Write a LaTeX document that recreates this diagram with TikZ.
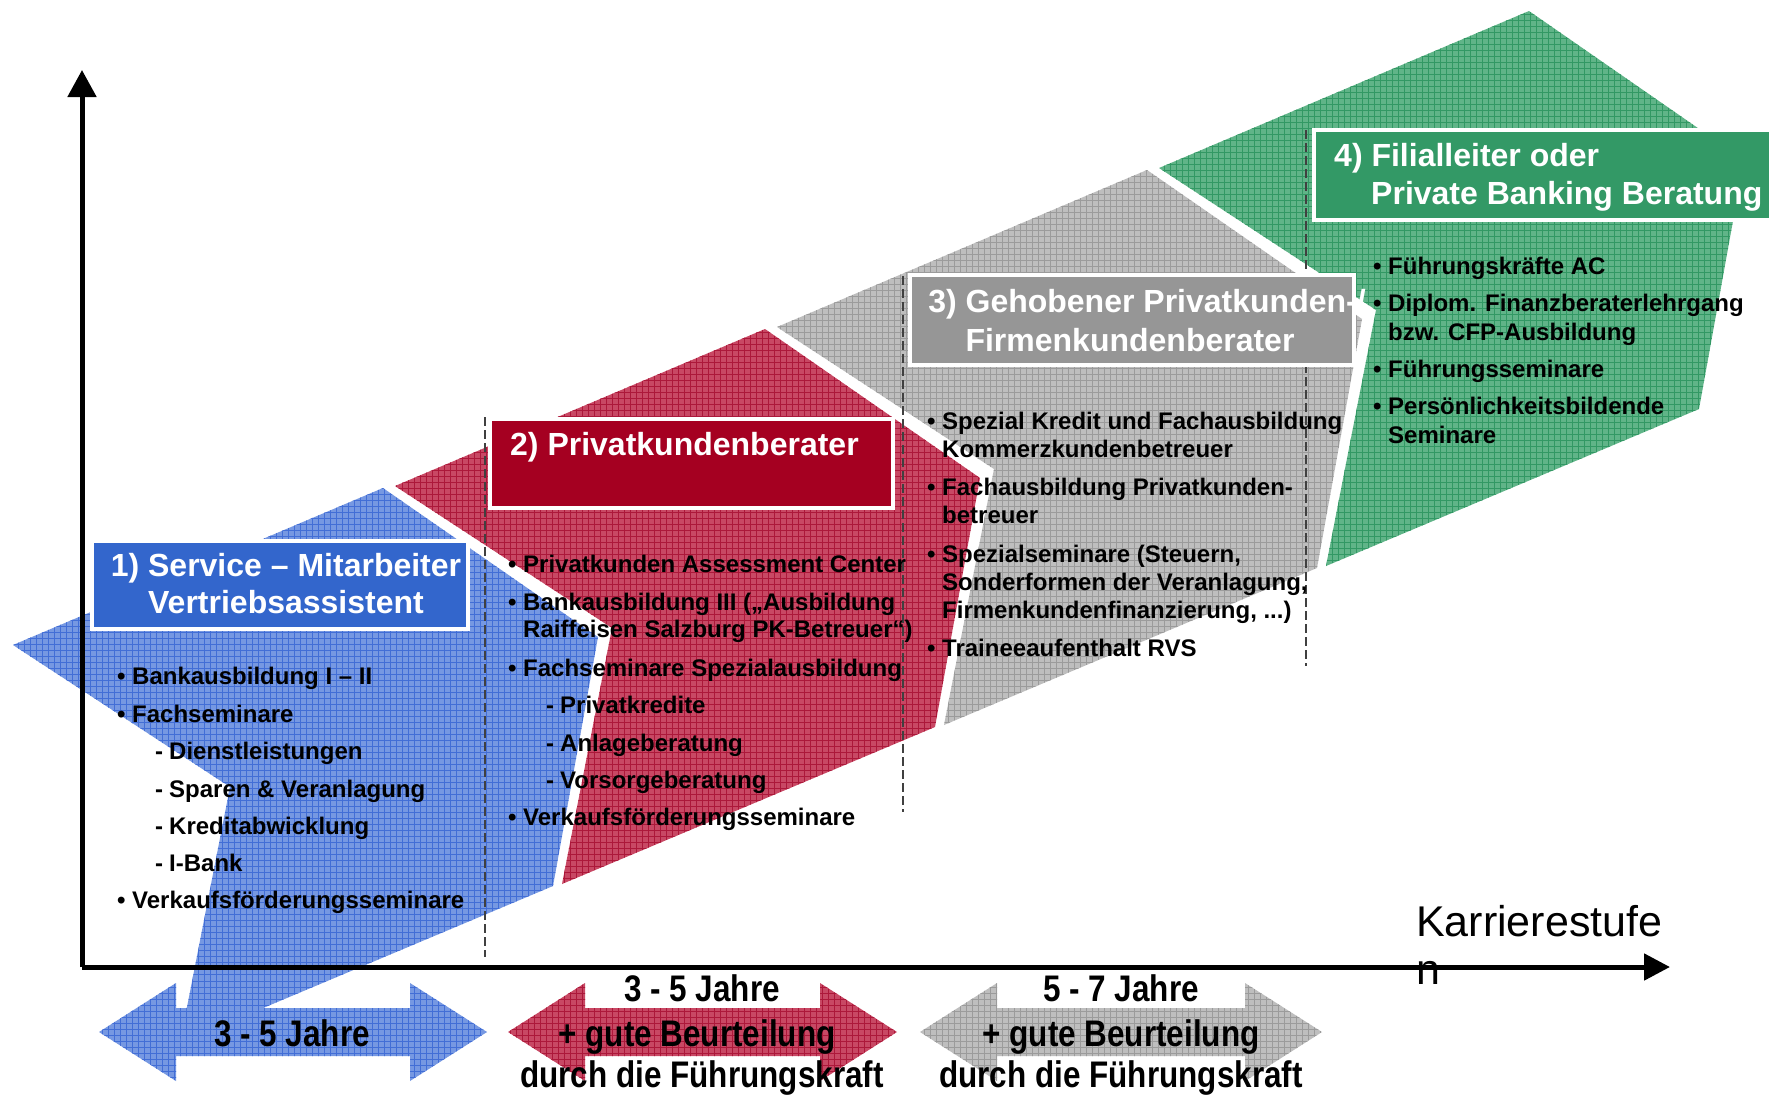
\documentclass[tikz,border=0pt]{standalone}
\usepackage{fontspec}
\setmainfont{Liberation Sans}
\newfontfamily\narrowfont[FakeStretch=0.85]{Liberation Sans}
\usetikzlibrary{arrows.meta, patterns.meta}

\definecolor{blueBase}{RGB}{118,152,226}
\definecolor{blueLine}{RGB}{66,110,214}
\definecolor{redBase}{RGB}{200,72,100}
\definecolor{redLine}{RGB}{172,24,58}
\definecolor{grayBase}{RGB}{190,190,190}
\definecolor{grayLine}{RGB}{155,155,155}
\definecolor{greenBase}{RGB}{96,180,136}
\definecolor{greenLine}{RGB}{50,152,100}
\definecolor{boxBlue}{RGB}{51,102,204}
\definecolor{boxRed}{RGB}{165,0,33}
\definecolor{boxGray}{RGB}{150,150,150}
\definecolor{boxGreen}{RGB}{51,153,102}

\newcommand{\bul}[1]{\makebox[15pt][l]{•}#1}
\newcommand{\contline}[1]{\hspace*{15pt}#1}
\newcommand{\subitm}[1]{\hspace*{38pt}\makebox[14pt][l]{-}#1}

\begin{document}
\begin{tikzpicture}[x=1pt, y=-1pt,
    hatchfill/.style 2 args={fill=#1,
      postaction={pattern={Lines[distance=6pt, angle=0, line width=1pt]}, pattern color=#2},
      postaction={pattern={Lines[distance=6pt, angle=90, line width=1pt]}, pattern color=#2}},
    tbox/.style={draw=white, line width=4pt, anchor=north west, inner sep=0pt},
    ttl/.style={text=white, inner sep=0pt, font=\bfseries\fontsize{32}{37}\selectfont},
    itm/.style={anchor=base west, inner sep=0pt, font=\bfseries\fontsize{24}{28}\selectfont},
    yrs/.style={anchor=base, inner sep=0pt, font=\narrowfont\bfseries\fontsize{37}{45}\selectfont},
    guide/.style={black!75, line width=1.2pt, dash pattern=on 9pt off 4pt},
    axisline/.style={line width=5pt, -{Triangle[length=27pt, width=28pt]}}
]
\useasboundingbox (0,0) rectangle (1769,1095);
\fill[white] (0,0) rectangle (1769,1095);

% duration arrows
\foreach \a/\b/\col in {99/487/blue, 508/897/red, 920/1322/gray}
  \fill[hatchfill={\col Base}{\col Line}] (\a,1032) -- (\a+77,983) -- (\a+77,1008)
    -- (\b-77,1008) -- (\b-77,983) -- (\b,1032) -- (\b-77,1081) -- (\b-77,1056)
    -- (\a+77,1056) -- (\a+77,1081) -- cycle;

% career chevrons
\foreach \k/\col in {3/green, 2/gray, 1/red, 0/blue}
  \fill[hatchfill={\col Base}{\col Line}, shift={(\k*382,-\k*159)}]
    (13,645) -- (383,488) -- (598,637) -- (553,886) -- (180,1043) -- (230,787) -- cycle;

% stage separators
\foreach \x/\ya/\yb in {485/417/957, 903/276/812, 1306/130/666}
  \draw[guide] (\x,\ya) -- (\x,\yb);

% title boxes
\node[tbox, fill=boxBlue, minimum width=376pt, minimum height=88pt] (box1) at (90,539) {};
\node[tbox, fill=boxRed, minimum width=403pt, minimum height=89pt] (box2) at (488,417) {};
\node[tbox, fill=boxGray, minimum width=444pt, minimum height=90pt] (box3) at (908,273) {};
\node[tbox, fill=boxGreen, minimum width=463pt, minimum height=90pt] (box4) at (1312,128) {};

\node[ttl, anchor=base] (t1a) at (286,576) {1) Service – Mitarbeiter};
\node[ttl, anchor=base] (t1b) at (286,613) {Vertriebsassistent};
\node[ttl, anchor=base west] (t2a) at (510,455) {2) Privatkundenberater};
\node[ttl, anchor=base] (t3a) at (1147,312) {3) Gehobener Privatkunden-/};
\node[ttl, anchor=base] (t3b) at (1130,351) {Firmenkundenberater};
\node[ttl, anchor=base west] (t4a) at (1334,166) {4) Filialleiter oder};
\node[ttl, anchor=base west] (t4b) at (1371,204) {Private Banking Beratung};

% contents of each stage
\foreach \y/\t [count=\i] in {684/{\bul{Bankausbildung I – II}}, 722/{\bul{Fachseminare}},
    759/{\subitm{Dienstleistungen}}, 797/{\subitm{Sparen \& Veranlagung}},
    834/{\subitm{Kreditabwicklung}}, 871/{\subitm{I-Bank}},
    908/{\bul{Verkaufsförderungsseminare}}}
  \node[itm] (a\i) at (117,\y) {\t};
\foreach \y/\t [count=\i] in {572/{\bul{Privatkunden Assessment Center}},
    610/{\bul{Bankausbildung III („Ausbildung}}, 637/{\contline{Raiffeisen Salzburg PK-Betreuer“)}},
    676/{\bul{Fachseminare Spezialausbildung}}, 713/{\subitm{Privatkredite}},
    751/{\subitm{Anlageberatung}}, 788/{\subitm{Vorsorgeberatung}},
    825/{\bul{Verkaufsförderungsseminare}}}
  \node[itm] (b\i) at (508,\y) {\t};
\foreach \y/\t [count=\i] in {429/{\bul{Spezial Kredit und Fachausbildung}},
    457/{\contline{Kommerzkundenbetreuer}}, 495/{\bul{Fachausbildung Privatkunden-}},
    523/{\contline{betreuer}}, 562/{\bul{Spezialseminare (Steuern,}},
    590/{\contline{Sonderformen der Veranlagung,}}, 618/{\contline{Firmenkundenfinanzierung, ...)}},
    656/{\bul{Traineeaufenthalt RVS}}}
  \node[itm] (c\i) at (927,\y) {\t};
\foreach \y/\t [count=\i] in {274/{\bul{Führungskräfte AC}},
    311/{\bul{Diplom. Finanzberaterlehrgang}}, 340/{\contline{bzw. CFP-Ausbildung}},
    377/{\bul{Führungsseminare}}, 414/{\bul{Persönlichkeitsbildende}},
    443/{\contline{Seminare}}}
  \node[itm] (d\i) at (1373,\y) {\t};

% axes
\coordinate (O) at (82,967);
\coordinate (ytop) at (82,70);
\coordinate (xend) at (1670,967);
\draw[axisline] (O) -- (ytop);
\draw[line width=5pt, -{Triangle[length=26pt, width=26pt]}] (O) -- (xend);
\node[anchor=base west, inner sep=0pt, font=\fontsize{43}{47}\selectfont] (xlab) at (1416,936) {Karrierestufe};
\node[anchor=base west, inner sep=0pt, font=\fontsize{43}{47}\selectfont] (xlab2) at (1416,984) {n};

% durations
\node[yrs] (y1) at (292,1046) {3 - 5 Jahre};
\node[yrs] (y2a) at (702,1001) {3 - 5 Jahre};
\node[yrs] (y2b) at (697,1046) {+ gute Beurteilung};
\node[yrs] (y2c) at (702,1087) {durch die Führungskraft};
\node[yrs] (y3a) at (1121,1001) {5 - 7 Jahre};
\node[yrs] (y3b) at (1121,1046) {+ gute Beurteilung};
\node[yrs] (y3c) at (1121,1087) {durch die Führungskraft};
\end{tikzpicture}
\end{document}
